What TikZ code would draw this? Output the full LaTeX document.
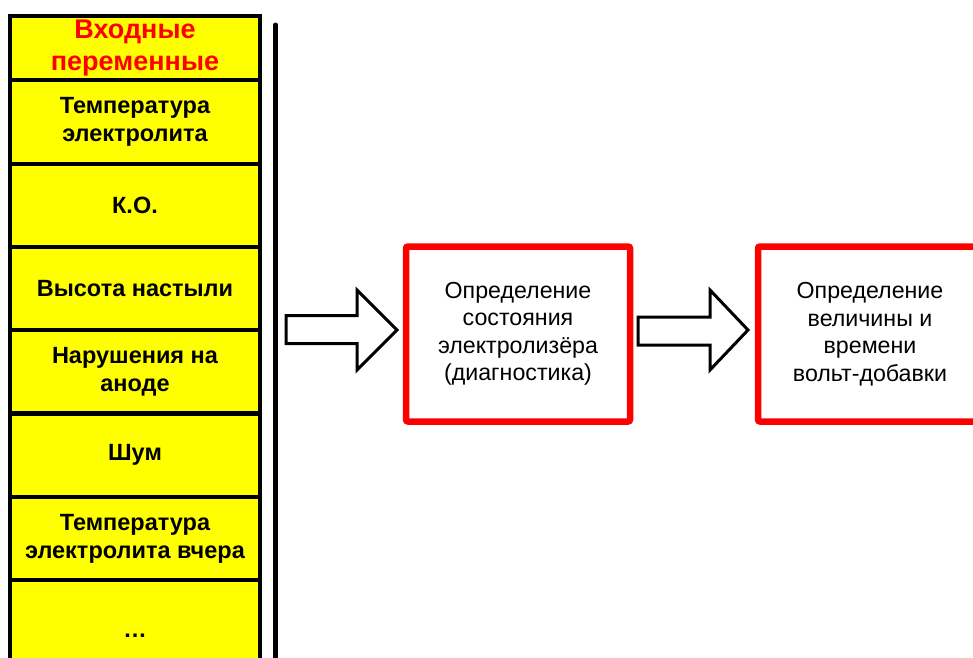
\documentclass[tikz,border=0pt]{standalone}
\usepackage{fontspec}
\setmainfont{Liberation Sans}
\definecolor{cellyellow}{RGB}{255,255,0}
\definecolor{boxred}{RGB}{255,0,0}
\begin{document}
\begin{tikzpicture}[x=1pt,y=-1pt,
  cell/.style={draw=black, line width=4pt, fill=cellyellow, minimum width=249.5pt,
    minimum height=83.3pt, inner sep=0pt, align=center,
    font=\bfseries\fontsize{23.5}{28}\selectfont},
  celltext/.style={inner sep=0pt, align=center, font=\bfseries\fontsize{23.5}{28}\selectfont},
  hdr/.style={cell, minimum height=65pt, text=boxred,
    font=\bfseries\fontsize{27}{32}\selectfont},
  procbox/.style={draw=boxred, line width=6.5pt, rounded corners=2pt, fill=white,
    minimum width=224pt, minimum height=175pt, inner sep=0pt, align=center,
    font=\fontsize{23.2}{27.5}\selectfont},
  blockarrow/.style={draw=black, line width=3pt, fill=white, line join=miter},
  divider/.style={draw=black, line width=5pt, line cap=round}]
\useasboundingbox (0,0) rectangle (973,657);
% left column of input variables
\node[hdr]  (h)  at (135,48.5)  {Входные\\переменные};
\node[cell] (c1) at (135,122)   {Температура\\электролита};
\node[cell] (c2) at (135,205.5) {К.О.};
\node[cell] (c3) at (135,288.5) {Высота настыли};
\node[cell] (c4) at (135,371.8) {Нарушения на\\аноде};
\node[cell] (c5) at (135,455.2) {Шум};
\node[cell] (c6) at (135,538.5) {Температура\\электролита вчера};
\node[cell] (c7) at (135,621.8) {};
\node[celltext] (c7t) at (135,636) {\dots};
% vertical divider
\coordinate (vtop) at (275.5,25);
\coordinate (vbot) at (275.5,675);
\draw[divider] (vtop) -- (vbot);
% processing boxes
\node[procbox] (b1) at (518,334) {Определение\\состояния\\электролизёра\\(диагностика)};
\node[procbox] (b2) at (870,334) {Определение\\величины и\\времени\\вольт-добавки};
% block arrows
\draw[blockarrow] (286,315.5) -- (357,315.5) -- (357,290) -- (397,330) -- (357,370)
  -- (357,343.5) -- (286,343.5) -- cycle;
\draw[blockarrow] (638,317) -- (710,317) -- (710,290) -- (748,330) -- (710,370)
  -- (710,345) -- (638,345) -- cycle;
\end{tikzpicture}
\end{document}
